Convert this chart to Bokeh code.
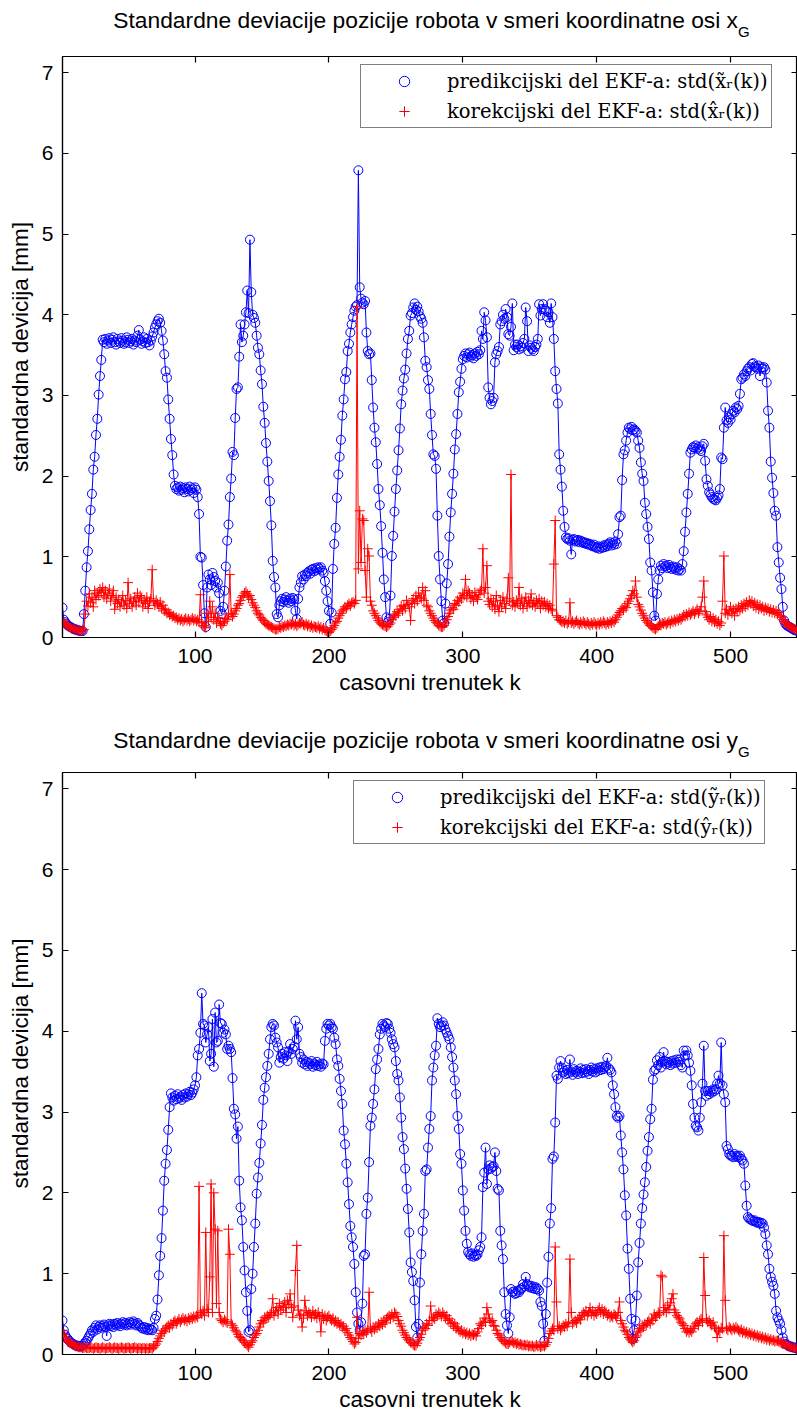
from bokeh.plotting import figure
from bokeh.layouts import column
from bokeh.models import Range1d, FixedTicker, Legend, LegendItem, LinearAxis, Div
from bokeh.embed import file_html
from bokeh.resources import INLINE

# ---------------- data ----------------
K = list(range(1, 551))

PRED_X = [
    0.37, 0.22, 0.19, 0.17, 0.15, 0.14, 0.13, 0.12, 0.11, 0.10,
    0.10, 0.09, 0.09, 0.08, 0.08, 0.08, 0.29, 0.58, 0.87, 1.07,
    1.34, 1.58, 1.78, 2.08, 2.24, 2.51, 2.71, 3.01, 3.24, 3.44,
    3.69, 3.66, 3.70, 3.64, 3.68, 3.71, 3.65, 3.69, 3.72, 3.66,
    3.63, 3.70, 3.67, 3.65, 3.71, 3.68, 3.64, 3.66, 3.72, 3.69,
    3.65, 3.67, 3.70, 3.63, 3.68, 3.66, 3.74, 3.81, 3.69, 3.64,
    3.67, 3.72, 3.65, 3.70, 3.66, 3.62, 3.68, 3.73, 3.78, 3.84,
    3.88, 3.92, 3.95, 3.90, 3.80, 3.68, 3.51, 3.30, 3.22, 2.95,
    2.71, 2.46, 2.26, 2.02, 1.88, 1.84, 1.86, 1.82, 1.87, 1.83,
    1.85, 1.80, 1.86, 1.84, 1.81, 1.87, 1.83, 1.85, 1.79, 1.86,
    1.83, 1.74, 1.53, 1.00, 0.99, 0.65, 0.30, 0.13, 0.62, 0.78,
    0.72, 0.65, 0.80, 0.75, 0.70, 0.62, 0.68, 0.55, 0.33, 0.29,
    0.38, 0.58, 0.88, 1.20, 1.40, 1.74, 1.97, 2.30, 2.26, 2.72,
    3.08, 3.10, 3.48, 3.88, 3.66, 3.74, 3.88, 4.03, 4.30, 4.02,
    4.93, 4.28, 4.00, 3.96, 3.90, 3.74, 3.59, 3.51, 3.31, 3.14,
    2.86, 2.66, 2.41, 2.18, 1.94, 1.69, 1.39, 0.95, 0.75, 0.62,
    0.29, 0.25, 0.40, 0.45, 0.48, 0.44, 0.47, 0.50, 0.46, 0.43,
    0.48, 0.45, 0.49, 0.47, 0.33, 0.23, 0.48, 0.62, 0.68, 0.76,
    0.72, 0.78, 0.76, 0.80, 0.82, 0.79, 0.84, 0.85, 0.82, 0.86,
    0.84, 0.87, 0.85, 0.87, 0.83, 0.80, 0.70, 0.58, 0.45, 0.33,
    0.17, 0.31, 0.85, 1.16, 1.36, 1.73, 2.02, 2.24, 2.45, 2.75,
    2.95, 3.20, 3.29, 3.55, 3.64, 3.78, 3.88, 3.97, 4.05, 4.10,
    4.12, 5.79, 4.34, 4.20, 4.15, 4.13, 4.17, 3.78, 3.55, 3.51,
    3.52, 3.19, 2.85, 2.60, 2.42, 2.15, 1.84, 1.64, 1.38, 1.05,
    0.72, 0.50, 0.25, 0.19, 0.23, 0.52, 1.01, 1.26, 1.56, 1.84,
    2.07, 2.32, 2.59, 2.89, 3.06, 3.21, 3.32, 3.52, 3.70, 3.80,
    3.99, 4.02, 4.09, 4.14, 4.06, 4.10, 4.04, 3.98, 3.95, 3.90,
    3.72, 3.43, 3.35, 3.19, 3.08, 2.77, 2.51, 2.27, 2.25, 2.09,
    1.51, 1.01, 0.72, 0.45, 0.21, 0.18, 0.42, 0.67, 0.91, 1.25,
    1.55, 1.78, 2.03, 2.33, 2.52, 2.77, 3.04, 3.17, 3.33, 3.45,
    3.49, 3.52, 3.47, 3.51, 3.53, 3.48, 3.50, 3.46, 3.52, 3.49,
    3.54, 3.51, 3.56, 3.80, 3.70, 4.03, 3.93, 3.72, 3.10, 2.97,
    2.89, 2.93, 2.97, 3.41, 3.51, 3.55, 3.60, 3.88, 3.92, 4.00,
    3.95, 4.07, 3.97, 3.76, 3.74, 3.85, 4.14, 3.56, 3.63, 3.60,
    3.63, 3.57, 3.61, 3.59, 3.65, 3.70, 4.09, 3.92, 3.55, 3.62,
    3.59, 3.57, 3.55, 3.60, 3.63, 3.70, 4.13, 3.99, 4.07, 4.13,
    4.07, 4.05, 3.97, 4.03, 3.90, 4.14, 3.97, 3.70, 3.30, 3.08,
    2.90, 2.27, 2.08, 1.87, 1.57, 1.37, 1.24, 1.22, 1.23, 1.20,
    1.03, 1.21, 1.22, 1.19, 1.20, 1.21, 1.18, 1.20, 1.19, 1.17,
    1.18, 1.16, 1.17, 1.15, 1.16, 1.14, 1.13, 1.15, 1.12, 1.11,
    1.13, 1.10, 1.12, 1.11, 1.14, 1.12, 1.15, 1.13, 1.16, 1.18,
    1.14, 1.17, 1.15, 1.19, 1.16, 1.28, 1.49, 1.51, 1.95, 2.27,
    2.32, 2.44, 2.54, 2.60, 2.58, 2.61, 2.57, 2.58, 2.56, 2.54,
    2.44, 2.35, 2.17, 2.03, 1.94, 1.67, 1.53, 1.37, 1.22, 0.93,
    0.83, 0.56, 0.27, 0.21, 0.54, 0.72, 0.83, 0.89, 0.86, 0.91,
    0.88, 0.89, 0.86, 0.90, 0.87, 0.85, 0.88, 0.86, 0.84, 0.87,
    0.83, 0.85, 0.83, 0.91, 1.07, 1.31, 1.55, 1.78, 2.03, 2.29,
    2.33, 2.36, 2.35, 2.38, 2.34, 2.36, 2.33, 2.31, 2.37, 2.40,
    2.19, 1.96, 1.88, 1.80, 1.77, 1.74, 1.72, 1.71, 1.70, 1.73,
    1.76, 1.84, 2.23, 2.21, 2.60, 2.85, 2.69, 2.66, 2.73, 2.70,
    2.77, 2.81, 2.79, 2.85, 2.83, 2.87, 3.02, 3.20, 3.22, 3.26,
    3.24, 3.30, 3.33, 3.35, 3.31, 3.39, 3.40, 3.36, 3.35, 3.33,
    3.37, 3.24, 3.35, 3.33, 3.35, 3.32, 3.16, 2.81, 2.60, 2.18,
    1.98, 1.79, 1.57, 1.51, 1.12, 0.93, 0.74, 0.60, 0.38, 0.21,
    0.17, 0.15, 0.14, 0.13, 0.12, 0.11, 0.10, 0.09, 0.09, 0.08,
]

CORR_X = [
    0.22, 0.19, 0.17, 0.15, 0.14, 0.13, 0.12, 0.11, 0.11, 0.10,
    0.10, 0.09, 0.09, 0.08, 0.08, 0.09, 0.10, 0.29, 0.45, 0.39,
    0.54, 0.43, 0.50, 0.38, 0.58, 0.47, 0.55, 0.52, 0.60, 0.56,
    0.62, 0.50, 0.58, 0.48, 0.55, 0.60, 0.45, 0.52, 0.58, 0.35,
    0.50, 0.42, 0.47, 0.38, 0.44, 0.52, 0.40, 0.46, 0.36, 0.68,
    0.42, 0.48, 0.38, 0.45, 0.50, 0.40, 0.55, 0.44, 0.52, 0.48,
    0.38, 0.46, 0.42, 0.50, 0.36, 0.44, 0.48, 0.84, 0.45, 0.40,
    0.46, 0.42, 0.38, 0.44, 0.36, 0.40, 0.33, 0.35, 0.30, 0.31,
    0.28, 0.29, 0.26, 0.27, 0.24, 0.25, 0.22, 0.24, 0.21, 0.23,
    0.20, 0.22, 0.24, 0.21, 0.23, 0.20, 0.22, 0.24, 0.21, 0.23,
    0.20, 0.22, 0.19, 0.53, 0.18, 0.15, 0.13, 0.12, 0.30, 0.20,
    0.45, 0.25, 0.38, 0.22, 0.30, 0.18, 0.25, 0.20, 0.17, 0.15,
    0.18, 0.20, 0.24, 0.22, 0.28, 0.78, 0.30, 0.26, 0.29, 0.33,
    0.36, 0.40, 0.42, 0.46, 0.50, 0.52, 0.55, 0.57, 0.54, 0.50,
    0.52, 0.47, 0.43, 0.40, 0.37, 0.33, 0.30, 0.28, 0.25, 0.23,
    0.21, 0.19, 0.17, 0.16, 0.15, 0.14, 0.13, 0.12, 0.11, 0.10,
    0.10, 0.11, 0.13, 0.12, 0.14, 0.13, 0.15, 0.14, 0.16, 0.15,
    0.17, 0.16, 0.18, 0.15, 0.17, 0.14, 0.16, 0.18, 0.17, 0.19,
    0.16, 0.15, 0.17, 0.14, 0.16, 0.13, 0.15, 0.12, 0.14, 0.13,
    0.12, 0.14, 0.11, 0.13, 0.10, 0.12, 0.09, 0.08, 0.07, 0.06,
    0.08, 0.10, 0.12, 0.15, 0.18, 0.20, 0.24, 0.27, 0.30, 0.33,
    0.35, 0.38, 0.36, 0.40, 0.42, 0.39, 0.43, 0.44, 0.42, 0.46,
    4.10, 0.85, 1.57, 0.93, 1.47, 1.45, 0.83, 0.50, 1.10, 1.01,
    0.45, 0.40, 0.33, 0.30, 0.27, 0.24, 0.21, 0.19, 0.17, 0.16,
    0.15, 0.14, 0.13, 0.14, 0.16, 0.18, 0.22, 0.25, 0.29, 0.27,
    0.32, 0.30, 0.35, 0.39, 0.33, 0.40, 0.36, 0.46, 0.41, 0.38,
    0.21, 0.44, 0.48, 0.42, 0.52, 0.45, 0.55, 0.50, 0.48, 0.62,
    0.46, 0.58, 0.40, 0.38, 0.33, 0.30, 0.27, 0.24, 0.21, 0.19,
    0.17, 0.15, 0.14, 0.13, 0.13, 0.15, 0.18, 0.22, 0.26, 0.30,
    0.34, 0.37, 0.35, 0.42, 0.40, 0.46, 0.44, 0.50, 0.48, 0.55,
    0.52, 0.72, 0.50, 0.58, 0.55, 0.48, 0.52, 0.45, 0.56, 0.50,
    0.47, 0.53, 0.58, 0.60, 1.10, 0.55, 0.62, 0.89, 0.45, 0.41,
    0.48, 0.38, 0.45, 0.35, 0.52, 0.40, 0.32, 0.46, 0.38, 0.50,
    0.42, 0.36, 0.48, 0.74, 0.45, 2.02, 0.40, 0.44, 0.38, 0.46,
    0.42, 0.62, 0.40, 0.48, 0.36, 0.44, 0.50, 0.38, 0.46, 0.42,
    0.54, 0.40, 0.44, 0.38, 0.46, 0.42, 0.48, 0.36, 0.45, 0.40,
    0.44, 0.38, 0.42, 0.36, 0.40, 0.35, 0.33, 0.91, 1.45, 0.27,
    0.25, 0.22, 0.21, 0.19, 0.20, 0.18, 0.21, 0.17, 0.19, 0.43,
    0.18, 0.20, 0.17, 0.19, 0.21, 0.18, 0.16, 0.19, 0.17, 0.20,
    0.18, 0.16, 0.19, 0.17, 0.15, 0.18, 0.16, 0.19, 0.17, 0.15,
    0.18, 0.16, 0.19, 0.17, 0.20, 0.18, 0.16, 0.19, 0.17, 0.20,
    0.18, 0.21, 0.19, 0.22, 0.25, 0.28, 0.31, 0.33, 0.36, 0.34,
    0.39, 0.37, 0.42, 0.45, 0.48, 0.52, 0.58, 0.54, 0.70, 0.50,
    0.41, 0.38, 0.34, 0.30, 0.27, 0.24, 0.21, 0.19, 0.17, 0.15,
    0.14, 0.12, 0.11, 0.10, 0.12, 0.14, 0.16, 0.15, 0.18, 0.17,
    0.19, 0.16, 0.18, 0.20, 0.17, 0.21, 0.19, 0.22, 0.20, 0.23,
    0.21, 0.24, 0.22, 0.25, 0.28, 0.26, 0.29, 0.27, 0.31, 0.28,
    0.30, 0.33, 0.29, 0.32, 0.35, 0.30, 0.33, 0.38, 0.50, 0.70,
    0.32, 0.28, 0.25, 0.22, 0.26, 0.20, 0.24, 0.19, 0.22, 0.17,
    0.20, 0.15, 0.18, 0.45, 1.01, 0.30, 0.35, 0.28, 0.33, 0.38,
    0.30, 0.35, 0.27, 0.36, 0.32, 0.38, 0.34, 0.40, 0.36, 0.42,
    0.38, 0.44, 0.40, 0.46, 0.42, 0.45, 0.39, 0.43, 0.37, 0.41,
    0.35, 0.40, 0.36, 0.38, 0.33, 0.37, 0.34, 0.36, 0.32, 0.35,
    0.31, 0.34, 0.30, 0.33, 0.29, 0.31, 0.27, 0.25, 0.22, 0.20,
    0.18, 0.16, 0.15, 0.14, 0.13, 0.12, 0.11, 0.10, 0.09, 0.08,
]

PRED_Y = [
    0.42, 0.30, 0.24, 0.21, 0.19, 0.17, 0.15, 0.14, 0.13, 0.12,
    0.11, 0.11, 0.10, 0.10, 0.10, 0.11, 0.13, 0.15, 0.17, 0.20,
    0.23, 0.26, 0.30, 0.28, 0.33, 0.36, 0.31, 0.34, 0.36, 0.33,
    0.35, 0.37, 0.34, 0.23, 0.36, 0.38, 0.35, 0.37, 0.34, 0.38,
    0.36, 0.39, 0.37, 0.35, 0.38, 0.40, 0.37, 0.39, 0.36, 0.38,
    0.40, 0.37, 0.39, 0.41, 0.38, 0.36, 0.39, 0.37, 0.35, 0.33,
    0.32, 0.34, 0.31, 0.33, 0.30, 0.32, 0.31, 0.30, 0.33, 0.44,
    0.48, 0.68, 0.98, 1.22, 1.44, 1.78, 2.15, 2.36, 2.53, 2.78,
    3.06, 3.23, 3.18, 3.14, 3.20, 3.16, 3.22, 3.17, 3.19, 3.15,
    3.21, 3.18, 3.23, 3.19, 3.22, 3.25, 3.21, 3.24, 3.28, 3.33,
    3.43, 3.70, 3.78, 3.98, 4.47, 4.09, 4.07, 3.86, 3.96, 4.05,
    3.63, 3.72, 4.15, 3.56, 4.23, 3.86, 3.88, 4.33, 4.10, 4.09,
    3.98, 4.02, 3.96, 3.78, 3.82, 3.78, 3.74, 3.42, 3.04, 2.97,
    2.67, 2.82, 2.15, 1.82, 1.66, 1.33, 1.04, 0.77, 0.54, 0.28,
    0.30, 0.81, 1.00, 1.33, 1.62, 1.99, 2.19, 2.37, 2.61, 2.84,
    3.15, 3.30, 3.43, 3.57, 3.72, 3.90, 4.05, 4.09, 4.07, 3.92,
    3.86, 3.80, 3.61, 3.68, 3.72, 3.66, 3.74, 3.70, 3.63, 3.75,
    3.84, 3.72, 3.78, 3.81, 4.13, 3.90, 4.05, 3.72, 3.68, 3.61,
    3.65, 3.59, 3.62, 3.57, 3.61, 3.59, 3.63, 3.56, 3.60, 3.58,
    3.62, 3.57, 3.59, 3.56, 3.60, 3.59, 3.88, 4.03, 4.09, 4.07,
    4.09, 4.05, 4.03, 3.92, 3.84, 3.65, 3.57, 3.41, 3.26, 3.10,
    2.77, 2.60, 2.36, 2.13, 1.86, 1.59, 1.45, 1.33, 1.12, 0.77,
    0.52, 0.38, 0.30, 0.40, 0.63, 1.22, 1.24, 1.74, 1.94, 2.38,
    2.83, 2.93, 3.10, 3.28, 3.53, 3.65, 3.78, 3.96, 4.03, 4.09,
    4.07, 4.05, 4.10, 4.09, 4.03, 3.98, 3.90, 3.84, 3.80, 3.63,
    3.47, 3.39, 3.18, 2.93, 2.69, 2.54, 2.30, 2.05, 1.80, 1.51,
    1.14, 1.02, 0.91, 0.67, 0.34, 0.21, 0.38, 0.89, 1.24, 1.53,
    1.74, 2.27, 2.29, 2.56, 2.79, 2.95, 3.39, 3.55, 3.70, 3.82,
    4.16, 4.09, 4.05, 4.07, 4.11, 4.07, 4.02, 3.98, 3.94, 3.90,
    3.80, 3.68, 3.55, 3.39, 3.22, 2.95, 2.79, 2.48, 2.36, 2.03,
    1.78, 1.53, 1.37, 1.27, 1.24, 1.22, 1.25, 1.21, 1.23, 1.22,
    1.24, 1.29, 1.33, 1.45, 2.07, 2.25, 2.56, 2.11, 2.29, 2.34,
    2.30, 2.32, 2.33, 2.50, 2.27, 2.05, 2.03, 1.53, 1.35, 1.18,
    0.77, 0.50, 0.36, 0.26, 0.46, 0.81, 0.77, 0.78, 0.75, 0.76,
    0.79, 0.77, 0.80, 0.82, 0.87, 0.84, 0.96, 0.87, 0.85, 0.83,
    0.85, 0.82, 0.84, 0.81, 0.83, 0.81, 0.79, 0.65, 0.60, 0.38,
    0.17, 0.50, 0.89, 1.21, 1.62, 1.81, 2.42, 2.45, 2.87, 3.45,
    3.41, 3.55, 3.63, 3.55, 3.49, 3.51, 3.47, 3.52, 3.48, 3.65,
    3.50, 3.46, 3.53, 3.49, 3.51, 3.47, 3.50, 3.54, 3.48, 3.52,
    3.49, 3.53, 3.50, 3.47, 3.52, 3.55, 3.50, 3.53, 3.49, 3.54,
    3.51, 3.55, 3.52, 3.56, 3.53, 3.55, 3.57, 3.67, 3.54, 3.52,
    3.49, 3.33, 3.22, 3.06, 2.95, 2.93, 2.95, 2.71, 2.50, 2.29,
    1.97, 1.72, 1.31, 1.06, 0.69, 0.44, 0.19, 0.30, 0.42, 0.73,
    1.14, 1.38, 1.62, 1.81, 1.98, 2.13, 2.32, 2.52, 2.69, 2.91,
    3.04, 3.40, 3.51, 3.53, 3.64, 3.58, 3.68, 3.55, 3.62, 3.74,
    3.63, 3.59, 3.62, 3.61, 3.58, 3.63, 3.60, 3.64, 3.61, 3.65,
    3.62, 3.65, 3.58, 3.55, 3.76, 3.70, 3.76, 3.70, 3.61, 3.51,
    3.33, 3.10, 2.93, 2.83, 2.81, 2.77, 2.93, 3.12, 3.35, 3.82,
    3.26, 3.20, 3.26, 3.22, 3.26, 3.24, 3.28, 3.26, 3.28, 3.35,
    3.45, 3.35, 3.86, 3.33, 3.22, 3.12, 2.58, 2.54, 2.48, 2.46,
    2.46, 2.44, 2.48, 2.45, 2.46, 2.44, 2.46, 2.42, 2.40, 2.36,
    2.09, 1.84, 1.70, 1.68, 1.67, 1.66, 1.65, 1.66, 1.64, 1.63,
    1.64, 1.62, 1.63, 1.62, 1.57, 1.49, 1.35, 1.24, 1.06, 0.96,
    0.90, 0.85, 0.75, 0.54, 0.46, 0.42, 0.38, 0.30, 0.21, 0.16,
    0.13, 0.12, 0.11, 0.10, 0.10, 0.09, 0.09, 0.08, 0.08, 0.07,
]

CORR_Y = [
    0.30, 0.25, 0.21, 0.18, 0.16, 0.15, 0.14, 0.13, 0.12, 0.11,
    0.10, 0.10, 0.09, 0.09, 0.09, 0.08, 0.08, 0.09, 0.08, 0.08,
    0.08, 0.09, 0.08, 0.07, 0.08, 0.09, 0.08, 0.08, 0.07, 0.08,
    0.09, 0.08, 0.07, 0.08, 0.08, 0.09, 0.08, 0.07, 0.08, 0.09,
    0.08, 0.08, 0.07, 0.08, 0.09, 0.08, 0.07, 0.08, 0.08, 0.09,
    0.08, 0.07, 0.08, 0.08, 0.09, 0.08, 0.07, 0.08, 0.08, 0.07,
    0.08, 0.08, 0.07, 0.08, 0.07, 0.08, 0.08, 0.07, 0.09, 0.11,
    0.13, 0.16, 0.20, 0.23, 0.26, 0.30, 0.28, 0.32, 0.34, 0.36,
    0.33, 0.38, 0.36, 0.40, 0.42, 0.38, 0.41, 0.44, 0.40, 0.43,
    0.45, 0.42, 0.44, 0.41, 0.45, 0.43, 0.46, 0.44, 0.47, 0.45,
    0.48, 0.46, 2.08, 0.52, 0.50, 0.54, 0.48, 1.51, 0.56, 0.52,
    0.96, 2.11, 0.52, 2.00, 1.55, 0.63, 1.53, 0.52, 0.44, 0.42,
    0.40, 0.43, 0.41, 0.39, 1.55, 1.24, 0.38, 0.36, 0.33, 0.30,
    0.28, 0.25, 0.22, 0.21, 0.19, 0.17, 0.15, 0.13, 0.11, 0.09,
    0.12, 0.15, 0.17, 0.21, 0.24, 0.26, 0.30, 0.34, 0.38, 0.42,
    0.40, 0.46, 0.44, 0.48, 0.46, 0.50, 0.52, 0.69, 0.48, 0.54,
    0.58, 0.50, 0.63, 0.55, 0.60, 0.58, 0.65, 0.52, 0.67, 0.62,
    0.75, 0.58, 0.46, 0.60, 1.04, 1.35, 0.55, 0.48, 0.50, 0.34,
    0.45, 0.67, 0.54, 0.48, 0.52, 0.50, 0.46, 0.54, 0.48, 0.50,
    0.45, 0.52, 0.47, 0.28, 0.50, 0.44, 0.48, 0.42, 0.46, 0.48,
    0.44, 0.42, 0.45, 0.40, 0.42, 0.38, 0.40, 0.36, 0.38, 0.34,
    0.35, 0.30, 0.32, 0.27, 0.24, 0.21, 0.19, 0.16, 0.13, 0.15,
    0.46, 0.20, 0.26, 0.24, 0.28, 0.25, 0.30, 0.27, 0.30, 0.77,
    0.32, 0.28, 0.34, 0.31, 0.35, 0.33, 0.38, 0.35, 0.40, 0.37,
    0.42, 0.39, 0.44, 0.46, 0.48, 0.44, 0.50, 0.46, 0.52, 0.50,
    0.47, 0.42, 0.38, 0.35, 0.30, 0.27, 0.24, 0.21, 0.19, 0.17,
    0.15, 0.14, 0.12, 0.11, 0.11, 0.14, 0.18, 0.21, 0.25, 0.30,
    0.34, 0.32, 0.38, 0.36, 0.42, 0.60, 0.42, 0.46, 0.44, 0.50,
    0.48, 0.52, 0.50, 0.47, 0.52, 0.49, 0.45, 0.48, 0.42, 0.44,
    0.38, 0.40, 0.35, 0.38, 0.32, 0.34, 0.30, 0.28, 0.30, 0.26,
    0.28, 0.25, 0.27, 0.24, 0.26, 0.23, 0.25, 0.24, 0.26, 0.23,
    0.28, 0.32, 0.38, 0.36, 0.40, 0.45, 0.40, 0.58, 0.50, 0.44,
    0.40, 0.42, 0.36, 0.35, 0.30, 0.26, 0.24, 0.21, 0.19, 0.17,
    0.16, 0.14, 0.13, 0.13, 0.15, 0.17, 0.16, 0.14, 0.15, 0.13,
    0.14, 0.12, 0.13, 0.12, 0.11, 0.12, 0.11, 0.12, 0.10, 0.11,
    0.10, 0.11, 0.09, 0.10, 0.12, 0.10, 0.11, 0.09, 0.10, 0.11,
    0.10, 0.12, 0.15, 0.20, 0.26, 0.29, 0.32, 0.30, 1.33, 0.65,
    0.32, 0.35, 0.30, 0.33, 0.36, 0.34, 0.38, 0.35, 0.40, 1.18,
    0.52, 0.38, 0.40, 0.42, 0.39, 0.44, 0.46, 0.43, 0.48, 0.52,
    0.50, 0.54, 0.48, 0.52, 0.58, 0.50, 0.54, 0.48, 0.52, 0.50,
    0.55, 0.58, 0.52, 0.56, 0.50, 0.54, 0.52, 0.48, 0.50, 0.46,
    0.48, 0.46, 0.50, 0.48, 0.45, 0.52, 0.65, 0.42, 0.38, 0.34,
    0.30, 0.28, 0.25, 0.21, 0.19, 0.17, 0.15, 0.17, 0.21, 0.23,
    0.28, 0.32, 0.30, 0.36, 0.34, 0.38, 0.36, 0.40, 0.42, 0.38,
    0.44, 0.42, 0.50, 0.46, 0.48, 0.52, 0.50, 0.98, 0.96, 0.54,
    0.58, 0.52, 0.61, 0.56, 0.64, 0.69, 0.75, 0.55, 0.52, 0.48,
    0.46, 0.44, 0.40, 0.38, 0.36, 0.32, 0.28, 0.30, 0.27, 0.30,
    0.28, 0.32, 0.35, 0.38, 0.40, 0.36, 0.42, 0.44, 0.40, 1.20,
    0.73, 0.44, 0.40, 0.42, 0.38, 0.36, 0.40, 0.34, 0.32, 0.21,
    0.30, 0.28, 0.33, 0.32, 1.47, 0.67, 0.32, 0.30, 0.34, 0.32,
    0.30, 0.33, 0.31, 0.34, 0.32, 0.30, 0.28, 0.31, 0.27, 0.29,
    0.26, 0.28, 0.25, 0.27, 0.24, 0.26, 0.23, 0.25, 0.22, 0.24,
    0.21, 0.23, 0.20, 0.22, 0.19, 0.21, 0.18, 0.20, 0.17, 0.19,
    0.17, 0.18, 0.16, 0.17, 0.17, 0.16, 0.15, 0.14, 0.13, 0.13,
    0.12, 0.11, 0.10, 0.10, 0.09, 0.09, 0.08, 0.08, 0.07, 0.07,
]

X_TICKS = [100, 200, 300, 400, 500]
Y_TICKS = [0, 1, 2, 3, 4, 5, 6, 7]

TITLE_X = "Standardne deviacije pozicije robota v smeri koordinatne osi x"
TITLE_Y = "Standardne deviacije pozicije robota v smeri koordinatne osi y"
SUB = "G"
X_LABEL = "casovni trenutek k"
Y_LABEL = "standardna devicija [mm]"
LEG_X = ["predikcijski del EKF-a: std(x\u0303\u1d63(k))",
         "korekcijski del EKF-a: std(x\u0302\u1d63(k))"]
LEG_Y = ["predikcijski del EKF-a: std(\u1ef9\u1d63(k))",
         "korekcijski del EKF-a: std(\u0177\u1d63(k))"]

SANS = "Liberation Sans"
SERIF = "DejaVu Serif"


def title_div(text, height, pad_top):
    html = (
        '<div style="width:797px;box-sizing:border-box;padding-left:66px;'
        f'padding-top:{pad_top}px;text-align:center;font-family:\'{SANS}\';'
        'font-size:22.8px;line-height:26px;color:black;white-space:nowrap;">'
        f'{text}<span style="position:relative;top:9px;font-size:15px;">{SUB}</span>'
        '</div>'
    )
    return Div(text=html, width=797, height=height, margin=0)


def panel(pred, corr, legend_txt, b_top, frame_h, b_bottom,
          tick_standoff, label_standoff, leg_x):
    p = figure(width=797, height=b_top + frame_h + b_bottom,
               output_backend="svg", toolbar_location=None,
               x_range=Range1d(1, 550), y_range=Range1d(0, 7.2),
               min_border_left=62, min_border_right=0,
               min_border_top=b_top, min_border_bottom=b_bottom,
               x_axis_label=X_LABEL, y_axis_label=Y_LABEL, margin=0)
    p.grid.visible = False
    p.outline_line_color = "black"
    p.outline_line_width = 1.2
    p.background_fill_color = "white"
    p.border_fill_color = "white"

    xa = p.xaxis[0]
    ya = p.yaxis[0]
    xa.ticker = FixedTicker(ticks=X_TICKS)
    ya.ticker = FixedTicker(ticks=Y_TICKS)
    for ax in (xa, ya):
        ax.major_tick_in = 6
        ax.major_tick_out = 0
        ax.minor_tick_line_color = None
        ax.axis_line_width = 1.2
        ax.major_tick_line_width = 1.2
        ax.major_label_text_font = SANS
        ax.major_label_text_font_size = "21px"
        ax.major_label_text_color = "black"
        ax.axis_label_text_font = SANS
        ax.axis_label_text_font_size = "22.5px"
        ax.axis_label_text_font_style = "normal"
        ax.axis_label_text_color = "black"
    xa.major_label_standoff = tick_standoff
    xa.axis_label_standoff = label_standoff
    ya.major_label_standoff = 9
    ya.axis_label_standoff = 6

    # mirrored tick marks on top and right (no labels drawn)
    top = LinearAxis(ticker=FixedTicker(ticks=X_TICKS))
    right = LinearAxis(ticker=FixedTicker(ticks=Y_TICKS))
    for ax in (top, right):
        ax.major_tick_in = 6
        ax.major_tick_out = 0
        ax.minor_tick_line_color = None
        ax.axis_line_width = 1.2
        ax.major_tick_line_width = 1.2
        ax.major_label_text_font_size = "1px"
        ax.major_label_text_color = None
        ax.major_label_standoff = 0
    p.add_layout(top, "above")
    p.add_layout(right, "right")

    p.line(K, pred, line_color="blue", line_width=1)
    rp = p.scatter(K, pred, marker="circle", size=9, fill_color=None,
                   line_color="blue", line_width=1)
    p.line(K, corr, line_color="red", line_width=1)
    rc = p.scatter(K, corr, marker="cross", size=10,
                   line_color="red", line_width=1)

    leg_h = 3 + 26 + 4 + 26 + 3
    legend = Legend(items=[LegendItem(label=legend_txt[0], renderers=[rp]),
                           LegendItem(label=legend_txt[1], renderers=[rc])],
                    location=(leg_x, frame_h - 10 - leg_h),
                    orientation="vertical",
                    label_text_font=SERIF, label_text_font_size="19.5px",
                    label_text_color="black",
                    glyph_width=80, glyph_height=26, label_height=26,
                    label_standoff=3, spacing=4, padding=3, margin=0,
                    border_line_color="black", border_line_width=1,
                    background_fill_color="white", background_fill_alpha=1.0)
    p.add_layout(legend)
    return p


d1 = title_div(TITLE_X, 40, 7)
p1 = panel(PRED_X, CORR_X, LEG_X, 16, 581, 70, 11, 4, 298)
d2 = title_div(TITLE_Y, 50, 20)
p2 = panel(PRED_Y, CORR_Y, LEG_Y, 15, 582, 60, 11, 4, 291)

layout = column(d1, p1, d2, p2, spacing=0)
open("out.html", "w").write(file_html(layout, INLINE))
